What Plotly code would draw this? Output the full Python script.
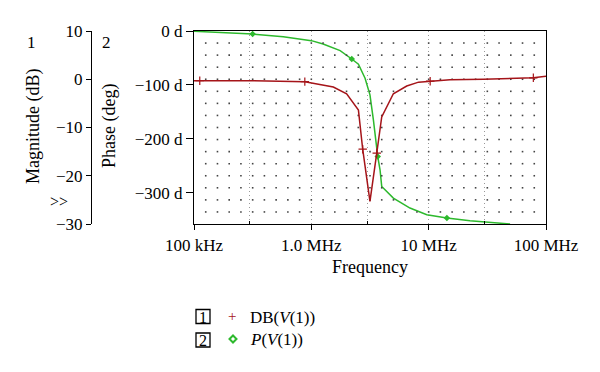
import numpy as np
import plotly.graph_objects as go

# ---------------- data ----------------
red_freq = [1.0e5, 1.12e5, 3.0e5, 8.8e5, 1.54e6, 2.0e6, 2.52e6, 2.74e6, 3.16e6, 3.61e6,
            3.98e6, 5.0e6, 6.5e6, 8.2e6, 1.03e7, 1.52e7, 2.93e7, 7.8e7, 1.0e8]
red_db = [-0.3, -0.3, -0.3, -0.5, -1.6, -3.0, -6.4, -14.5, -25.3, -15.3,
          -7.8, -3.0, -1.4, -0.6, -0.4, -0.1, 0.0, 0.3, 0.6]
red_mark_idx = [1, 3, 7, 9, 14, 17]

green_freq = [1.0e5, 1.9e5, 3.16e5, 5.77e5, 1.0e6, 1.26e6, 1.76e6, 2.21e6, 2.52e6, 2.87e6,
              3.16e6, 3.38e6, 3.56e6, 3.68e6, 3.85e6, 3.98e6, 5.0e6, 6.93e6, 9.64e6, 1.43e7,
              2.25e7, 3.8e7, 4.94e7]
green_phase = [-0.5, -3.1, -5.6, -10.5, -17.9, -24.1, -36.4, -51.9, -61.7, -87.7,
               -118.5, -164.8, -214.2, -232.7, -257.4, -288.3, -309.9, -328.4, -340.7, -346.9,
               -351.9, -356.2, -358.0]
green_mark_idx = [2, 7, 13, 19]

x_tickvals = [1e5, 1e6, 1e7, 1e8]
x_ticktext = ["100 kHz", "1.0 MHz", "10 MHz", "100 MHz"]
x_minorvals = [3e5, 3e6, 3e7]
phase_tickvals = [0, -100, -200, -300]
phase_ticktext = ["0 d", "\u2212100 d", "\u2212200 d", "\u2212300 d"]
mag_tickvals = [10, 0, -10, -20, -30]

RED = "rgb(165,20,25)"
GREEN = "rgb(45,185,45)"
FONT = "Liberation Serif"

W, H = 600, 372
def px(x):
    return x / W
def py(y):
    return 1 - y / H

fig = go.Figure()

# dotted background grid (decoration) on magnitude axis: 0.1 decade x 2.5 dB
gx = 10 ** np.arange(5.1, 7.95, 0.1)
gy = np.arange(-27.5, 9.9, 2.5)
GX, GY = np.meshgrid(gx, gy)
fig.add_trace(go.Scatter(x=GX.ravel(), y=GY.ravel(), mode="markers", yaxis="y2",
                         marker=dict(symbol="square", size=1.6, color="#444"),
                         hoverinfo="skip", showlegend=False))

# magnitude (dB) trace
fig.add_trace(go.Scatter(x=red_freq, y=red_db, mode="lines", yaxis="y2",
                         line=dict(color=RED, width=1.5), showlegend=False))
fig.add_trace(go.Scatter(x=[red_freq[i] for i in red_mark_idx],
                         y=[red_db[i] for i in red_mark_idx], mode="markers", yaxis="y2",
                         marker=dict(symbol="cross-thin", size=6, line=dict(color=RED, width=1.2)),
                         showlegend=False))
# phase trace
fig.add_trace(go.Scatter(x=green_freq, y=green_phase, mode="lines", yaxis="y",
                         line=dict(color=GREEN, width=1.5), showlegend=False))
fig.add_trace(go.Scatter(x=[green_freq[i] for i in green_mark_idx],
                         y=[green_phase[i] for i in green_mark_idx], mode="markers", yaxis="y",
                         marker=dict(symbol="diamond", size=5, color=GREEN), showlegend=False))

fig.update_layout(
    width=W, height=H, margin=dict(l=0, r=0, t=0, b=0, autoexpand=False),
    paper_bgcolor="white", plot_bgcolor="white", showlegend=False,
    font=dict(family=FONT, size=17, color="black"),
    xaxis=dict(type="log", range=[5, 8], domain=[px(194), px(546)], automargin=False,
               tickmode="array", tickvals=x_tickvals, ticktext=x_ticktext,
               ticks="outside", ticklen=5, tickcolor="black",
               showline=True, linecolor="black", linewidth=1.2, mirror=True,
               showgrid=True, gridcolor="#999", griddash="1px,3px", gridwidth=1,
               minor=dict(tickmode="array", tickvals=x_minorvals, ticks="inside",
                          ticklen=3, tickcolor="black", showgrid=True,
                          gridcolor="#999", griddash="1px,3px"),
               zeroline=False,
               title=dict(text="Frequency", font=dict(size=18), standoff=6)),
    yaxis=dict(range=[-358, 0], domain=[py(224), py(31)], automargin=False,
               tickmode="array", tickvals=phase_tickvals, ticktext=phase_ticktext,
               ticks="outside", ticklen=7, tickcolor="black",
               showline=True, linecolor="black", linewidth=1.2, mirror=True,
               showgrid=False, zeroline=False),
    yaxis2=dict(range=[-30, 10], overlaying="y", anchor="free", position=px(91), side="left",
                automargin=False,
                tickmode="array", tickvals=mag_tickvals,
                ticks="outside", ticklen=5, tickcolor="black",
                showline=True, linecolor="black", linewidth=1.2,
                showgrid=False, zeroline=False),
)

ann = []
def text(x, y, t, size=18, angle=0, color="black", xanchor="center", **kw):
    ann.append(dict(x=px(x), y=py(y), xref="paper", yref="paper", text=t, showarrow=False,
                    font=dict(family=FONT, size=size, color=color), textangle=angle,
                    xanchor=xanchor, yanchor="middle", **kw))

text(31, 42, "1", size=17)
text(106, 42, "2", size=17)
text(34, 127, "Magnitude (dB)", angle=-90)
text(110, 126, "Phase (deg)", angle=-90)
text(59, 201, "&gt;&gt;", size=16)

# legend
shapes = []
for (cy, label) in [(316.5, "1"), (340, "2")]:
    shapes.append(dict(type="rect", xref="paper", yref="paper",
                       x0=px(196), x1=px(210), y0=py(cy + 7), y1=py(cy - 7),
                       line=dict(color="black", width=1.3)))
    text(203, cy + 0.5, label, size=16)
text(232, 316, "+", size=15, color=RED)
dx, dy = 3.5 / W, 3.5 / H
cx, cy = px(233), py(339)
shapes.append(dict(type="path", xref="paper", yref="paper",
                   path=f"M {cx-dx} {cy} L {cx} {cy+dy} L {cx+dx} {cy} L {cx} {cy-dy} Z",
                   line=dict(color=GREEN, width=2)))
text(248, 317, "DB(<i>V</i>(1))", size=17, xanchor="left")
text(248, 339, "<i>P</i>(<i>V</i>(1))", size=17, xanchor="left")

fig.update_layout(annotations=ann, shapes=shapes)
fig.write_html("out.html", config={"displayModeBar": False},
               post_script="document.body.style.margin='0px';")
